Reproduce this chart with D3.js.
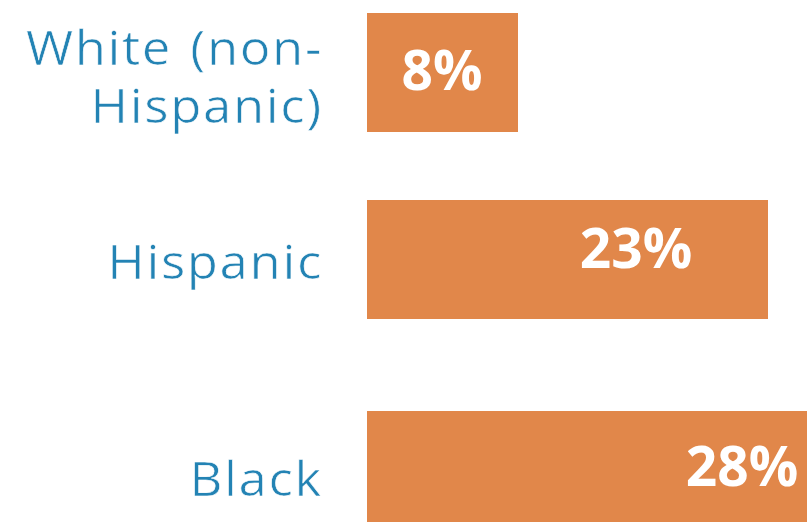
<!DOCTYPE html>
<html>
<head>
<meta charset="utf-8">
<script src="https://cdn.jsdelivr.net/npm/d3@7"></script>
<style>
  html, body { margin: 0; padding: 0; background: #fff; }
  svg { display: block; }
</style>
</head>
<body>
<script>
// ---- data ----
const categories = ["White (non-Hispanic)", "Hispanic", "Black"];
const categoryLines = [["White (non-", "Hispanic)"], ["Hispanic"], ["Black"]];
const values = [8, 23, 28];
const valueLabels = ["8%", "23%", "28%"];

// ---- layout ----
const W = 807, H = 522;
const barColor = "#E1874A";
const labelColor = "#2383B4";

const svg = d3.select("body").append("svg").attr("width", W).attr("height", H);

const x = d3.scaleLinear().domain([-1.06, 23]).range([367, 768]);
const y = d3.scaleOrdinal().domain(categories).range([13, 200, 411]);
const barH = 119;
// per-row text placement (layout only)
const catBaseline = d3.scaleOrdinal().domain(categories).range([65, 279, 496]);
const valCenter = d3.scaleOrdinal().domain(categories).range([442, 636, 742]);
const valBaseline = d3.scaleOrdinal().domain(categories).range([90, 268, 486]);

const rows = categories.map((c, i) => ({ c, v: values[i], lab: valueLabels[i], lines: categoryLines[i] }));

svg.selectAll("rect.bar").data(rows).join("rect")
  .attr("class", "bar")
  .attr("x", x.range()[0])
  .attr("y", d => y(d.c))
  .attr("width", d => x(d.v) - x.range()[0])
  .attr("height", barH)
  .attr("fill", barColor);

svg.selectAll("text.cat").data(rows).join("text")
  .attr("class", "cat")
  .attr("transform", "translate(323,0) scale(1.085,1)")
  .attr("text-anchor", "end")
  .attr("fill", labelColor)
  .attr("stroke", "#fff")
  .attr("stroke-width", 0.6)
  .style("font-family", "'Open Sans', sans-serif")
  .style("font-weight", 400)
  .style("font-size", "47px")
  .style("letter-spacing", "1.5px")
  .style("word-spacing", "3px")
  .each(function(d) {
    const t = d3.select(this);
    d.lines.forEach((ln, j) => {
      t.append("tspan")
        .attr("x", 0)
        .attr("y", catBaseline(d.c) + j * 58)
        .text(ln);
    });
  });

svg.selectAll("text.val").data(rows).join("text")
  .attr("class", "val")
  .attr("text-anchor", "middle")
  .attr("x", d => valCenter(d.c))
  .attr("y", d => valBaseline(d.c))
  .attr("fill", "#fff")
  .style("font-family", "'Open Sans', sans-serif")
  .style("font-weight", 700)
  .style("font-size", "55px")
  .text(d => d.lab);
</script>
</body>
</html>
